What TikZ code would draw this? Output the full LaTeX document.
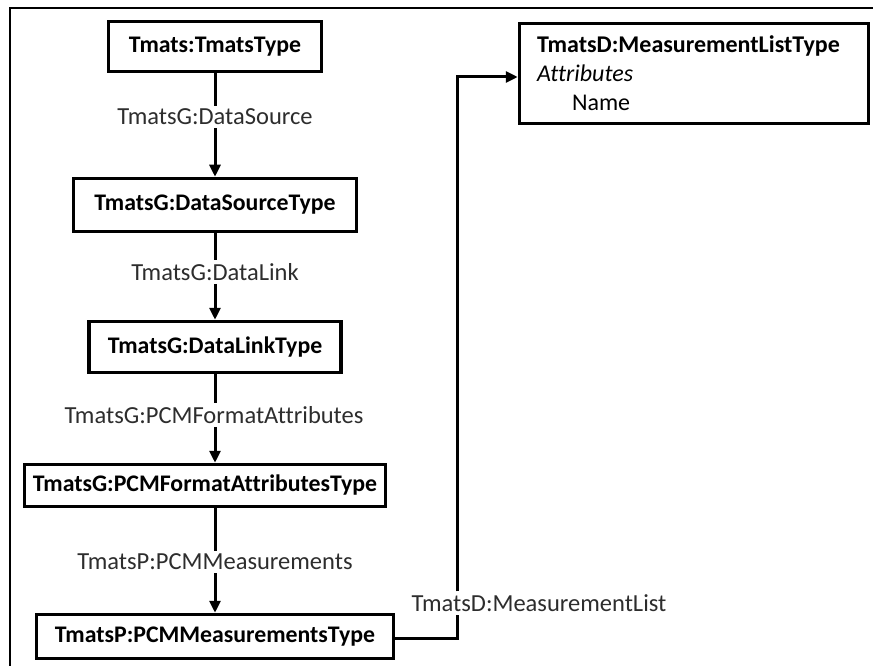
\documentclass[tikz,border=0pt]{standalone}
\usepackage{fontspec}
\setmainfont{Carlito}[Ligatures=NoCommon]
\usetikzlibrary{arrows.meta}
\definecolor{labelgray}{RGB}{45,45,45}
\begin{document}
\begin{tikzpicture}[x=1pt,y=-1pt,
  box/.style={draw, line width=3.5pt, inner sep=0pt, font=\bfseries\fontsize{23.8}{29}\selectfont},
  lbl/.style={font=\fontsize{24.5}{29}\selectfont, text=labelgray, inner sep=3pt},
  conn/.style={line width=3pt},
  arr/.style={conn, -{Triangle[length=12pt,width=11pt]}},
  frame/.style={line width=2pt}
]
\useasboundingbox (0,0) rectangle (873,666);
% outer frame (cropped)
\coordinate (f1) at (10,680);
\coordinate (f2) at (10,8);
\coordinate (f3) at (890,8);
\draw[frame] (f1) -- (f2) -- (f3);

% boxes
\node[box, minimum width=213pt, minimum height=50pt] (b1) at (215,46.5) {Tmats:TmatsType};
\node[box, minimum width=283pt, minimum height=53pt] (b2) at (215,205) {TmatsG:DataSourceType};
\node[box, minimum width=252pt, minimum height=51pt] (b3) at (215,347) {TmatsG:DataLinkType};
\node[box, minimum width=361pt, minimum height=42pt] (b4) at (205,485.5) {TmatsG:PCMFormatAttributesType};
\node[box, minimum width=357pt, minimum height=44pt] (b5) at (215,636.5) {TmatsP:PCMMeasurementsType};
\node[box, minimum width=349pt, minimum height=100pt, text width=314pt, align=left,
      font=\fontsize{24}{29}\selectfont] (b6) at (694,73.5)
  {\textbf{TmatsD:MeasurementListType}\\ \textit{Attributes}\\ \hspace*{35pt}Name};

% labels
\node[lbl] (l1) at (215,117) {TmatsG:DataSource};
\node[lbl] (l2) at (215,272) {TmatsG:DataLink};
\node[lbl] (l3) at (214,415) {TmatsG:PCMFormatAttributes};
\node[lbl] (l4) at (215,562) {TmatsP:PCMMeasurements};
\node[lbl] (l5) at (539,603) {TmatsD:MeasurementList};

% vertical chain
\draw[conn] (b1.south) -- (b1.south |- l1.north);
\draw[arr] (b1.south |- l1.south) -- (b2.north);
\draw[conn] (b2.south) -- (b2.south |- l2.north);
\draw[arr] (b2.south |- l2.south) -- (b3.north);
\draw[conn] (b3.south) -- (b3.south |- l3.north);
\draw[arr] (b3.south |- l3.south) -- (b3.south |- b4.north);
\draw[conn] (b5.north |- b4.south) -- (b5.north |- l4.north);
\draw[arr] (b5.north |- l4.south) -- (b5.north);

% elbow connector
\coordinate (j1) at (457,638);
\coordinate (j2) at (457,77);
\draw[conn] (b5.east |- j1) -- (j1) -- (j1 |- l5.south);
\draw[arr] (j2 |- l5.north) -- (j2) -- (b6.west |- j2);
\end{tikzpicture}
\end{document}
